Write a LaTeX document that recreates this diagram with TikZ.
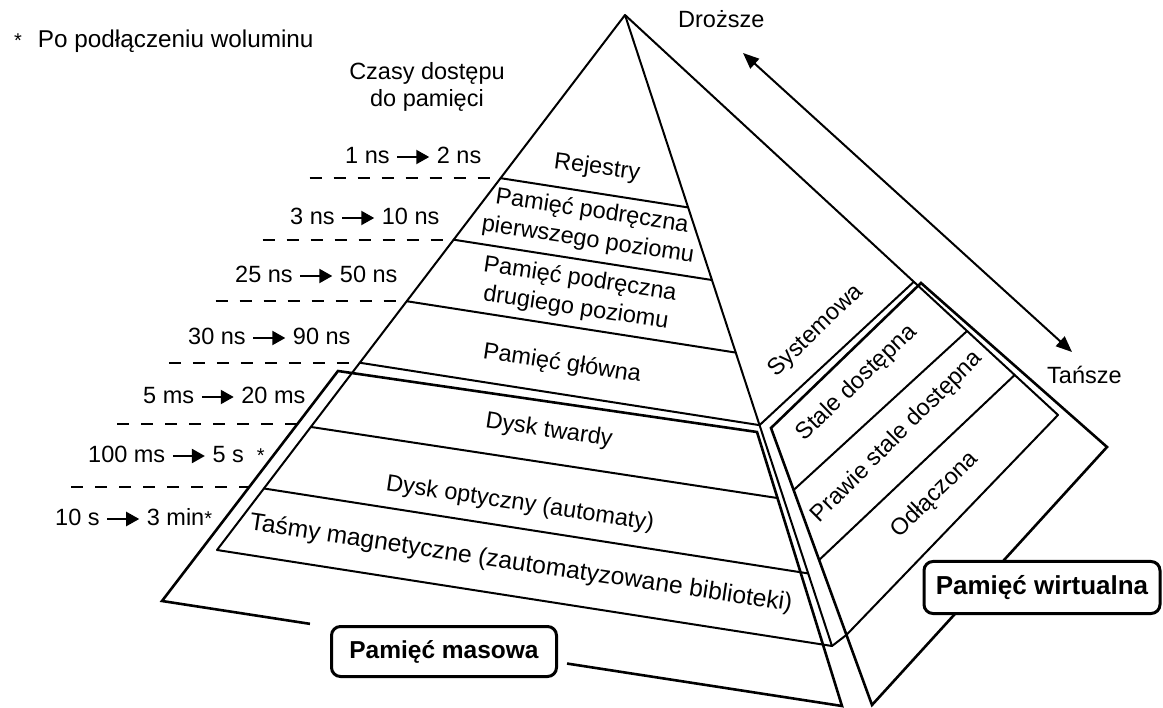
\documentclass[tikz,border=0pt]{standalone}
\usepackage{fontspec}
\setmainfont{Liberation Sans}
\usetikzlibrary{arrows.meta,calc}
\newcommand{\timearrow}{\tikz[baseline=-7pt]\draw[line width=2.2pt,-{Triangle[length=13pt,width=14pt]}] (0pt,0pt)--(32pt,0pt);}
\newcommand{\astm}{{\fontsize{20}{20}\selectfont *}}
\begin{document}
\begin{tikzpicture}[x=1pt,y=-1pt,
  edge/.style={line width=2pt,line join=round,line cap=round},
  frm/.style={line width=2.6pt,line join=miter},
  sep/.style={line width=2pt,dash pattern=on 12pt off 12pt},
  lbl/.style={font=\fontsize{23.5}{29}\selectfont,inner sep=0pt,align=center},
  tlbl/.style={font=\fontsize{23.5}{29}\selectfont,inner sep=0pt,anchor=base west},
  box/.style={draw,line width=3pt,rounded corners=9pt,fill=white,font=\fontsize{24.5}{28}\selectfont\bfseries,inner sep=0pt},
  dbl/.style={line width=2pt,{Triangle[length=16pt,width=13pt]}-{Triangle[length=16pt,width=13pt]}}
]
\useasboundingbox (0,0) rectangle (1163,708);
% pyramid corners
\coordinate (A) at (625,15);
\coordinate (L) at (217,550);
\coordinate (F) at (832,646);
\coordinate (R) at (1058,415);
% frames
\coordinate (M1) at (338,371);
\coordinate (M2) at (757,432);
\coordinate (M3) at (842,706);
\coordinate (M4) at (162,601);
\coordinate (P1) at (921,283);
\coordinate (P2) at (1107,447);
\coordinate (P3) at (872,705);
\coordinate (P4) at (771,428);
\coordinate (Fp) at ($(P4)!0.747!(P3)$);
% layer points
\foreach \n/\t in {1/0.305,2/0.42,3/0.535,4/0.65,5/0.77,6/0.885}{
  \coordinate (l\n) at ($(A)!\t!(L)$);
  \coordinate (f\n) at ($(A)!\t!(F)$);
}
\coordinate (m5) at ($(M2)!0.241!(M3)$);
\coordinate (sR) at ($(A)!0.667!(R)$);
\coordinate (v1a) at ($(P4)!0.224!(P3)$);
\coordinate (v1b) at ($(A)!0.79!(R)$);
\coordinate (v2a) at ($(P4)!0.4765!(P3)$);
\coordinate (v2b) at ($(A)!0.9!(R)$);
\coordinate (g1) at ($(M4)!0.2176!(M3)$);
\coordinate (g2) at ($(M4)!0.5956!(M3)$);
\coordinate (d5) at ($(M1)!0.2304!(M4)$);
\coordinate (d6) at ($(M1)!0.5043!(M4)$);

% pyramid
\draw[edge] (L) -- (A) -- (F) -- cycle;
\draw[edge] (A) -- (R) -- (Fp) -- (F);
\foreach \n in {1,2,3,4,6}{\draw[edge] (l\n) -- (f\n);}
\draw[edge] (l5) -- (m5);
\draw[edge] (f4) -- (sR);
\draw[edge] (v1a) -- (v1b);
\draw[edge] (v2a) -- (v2b);

% frames
\draw[frm] (P1) -- (P2) -- (P3) -- (P4) -- cycle;
\draw[frm] (g1) -- (M4) -- (M1) -- (M2) -- (M3) -- (g2);

% dashed separators
\foreach \n in {1,2,3,4}{\draw[sep] ($(l\n)+(-191,0)$) -- (l\n);}
\draw[sep] ($(d5)+(-180,0)$) -- (d5);
\draw[sep] ($(d6)+(-178,0)$) -- (d6);

% layer texts
\node[lbl,rotate=-7.5] (rej) at (597,168) {Rejestry};
\node[lbl,rotate=-8.5] (pl1) at (590,226) {Pamięć podręczna\\pierwszego poziomu};
\node[lbl,rotate=-8.5] (pl2) at (578,294) {Pamięć podręczna\\drugiego poziomu};
\node[lbl,rotate=-8.5] (pg) at (562,364) {Pamięć główna};
\node[lbl,rotate=-8.5] (hd) at (549,431) {Dysk twardy};
\node[lbl,rotate=-8.5] (od) at (520,504) {Dysk optyczny (automaty)};
\node[lbl,rotate=-8.5,font=\fontsize{24.6}{29}\selectfont] (tm) at (521,564) {Taśmy magnetyczne (zautomatyzowane biblioteki)};

% right face texts
\node[lbl,rotate=44] (sys) at (816,331) {Systemowa};
\node[lbl,rotate=44] (sd) at (857,383) {Stale dostępna};
\node[lbl,rotate=45] (psd) at (897,437) {Prawie stale dostępna};
\node[lbl,rotate=44.5] (odl) at (935,495) {Odłączona};

% access times
\node[lbl,font=\fontsize{23.5}{27}\selectfont] (czasy) at (427,87) {Czasy dostępu\\do pamięci};
\node[tlbl] (t1) at (345,164) {1 ns \timearrow{} 2 ns};
\node[tlbl] (t2) at (290,225) {3 ns \timearrow{} 10 ns};
\node[tlbl] (t3) at (235,283) {25 ns \timearrow{} 50 ns};
\node[tlbl] (t4) at (188,345) {30 ns \timearrow{} 90 ns};
\node[tlbl] (t5) at (143,404) {5 ms \timearrow{} 20 ms};
\node[tlbl] (t6) at (88,463) {100 ms \timearrow{} 5 s\hspace{13pt}\astm};
\node[tlbl] (t7) at (55,526) {10 s \timearrow{} 3 min\astm};

\node[tlbl,font=\fontsize{24.3}{29}\selectfont] (note) at (14,48) {\astm\hspace{16pt}Po podłączeniu woluminu};

% cost arrow
\node[tlbl] (dr) at (678,28) {Droższe};
\node[tlbl] (ta) at (1047,384) {Tańsze};
\coordinate (c1) at (743,53);
\coordinate (c2) at (1072,352);
\draw[dbl] (c1) -- (c2);

% boxes
\node[box,minimum width=225pt,minimum height=50pt] (pm) at (444,651.5) {Pamięć masowa};
\node[box,minimum width=236pt,minimum height=52pt,font=\fontsize{26}{28}\selectfont\bfseries] (pw) at (1042,587.5) {Pamięć wirtualna};
\end{tikzpicture}
\end{document}
